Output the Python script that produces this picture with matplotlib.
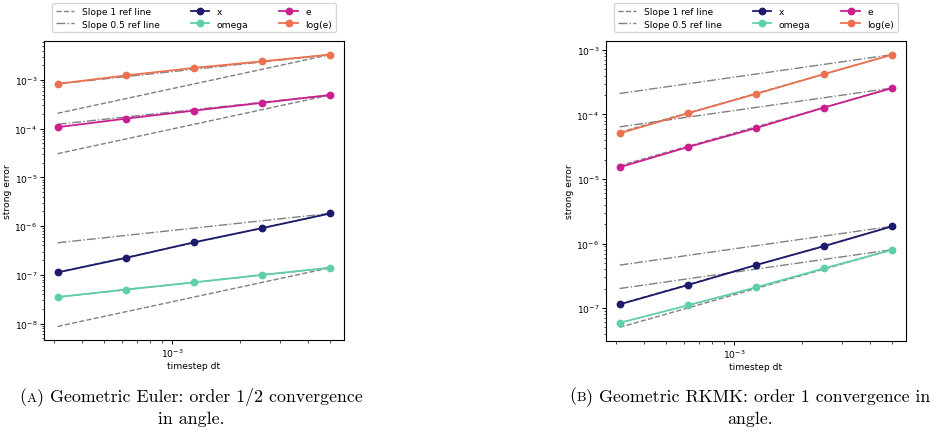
import numpy as np
import matplotlib

matplotlib.use("Agg")
import matplotlib.pyplot as plt
from matplotlib.offsetbox import TextArea, HPacker, AnnotationBbox

# timesteps
dt = [3.125e-4, 6.25e-4, 1.25e-3, 2.5e-3, 5e-3]

# geometric Euler errors
euler_x = [1.12e-7, 2.22e-7, 4.65e-7, 9.1e-7, 1.82e-6]
euler_omega = [3.5e-8, 5.0e-8, 7.0e-8, 1.0e-7, 1.4e-7]
euler_e = [1.07e-4, 1.6e-4, 2.34e-4, 3.38e-4, 4.9e-4]
euler_loge = [8.3e-4, 1.23e-3, 1.76e-3, 2.4e-3, 3.3e-3]

# geometric RKMK errors
rkmk_x = [1.14e-7, 2.27e-7, 4.64e-7, 9.1e-7, 1.85e-6]
rkmk_omega = [5.9e-8, 1.1e-7, 2.09e-7, 4.12e-7, 8.03e-7]
rkmk_e = [1.52e-5, 3.12e-5, 6.16e-5, 1.28e-4, 2.57e-4]
rkmk_loge = [5.1e-5, 1.04e-4, 2.08e-4, 4.23e-4, 8.45e-4]

names = ["x", "omega", "e", "log(e)"]
colors = ["#1b1a6b", "#5fcfa6", "#cc1f8f", "#ec7151"]

captions = [
    ("A", ") Geometric Euler: order 1/2 convergence", "in angle."),
    ("B", ") Geometric RKMK: order 1 convergence in", "angle."),
]

W, H = 941, 435
fig = plt.figure(figsize=(W / 100, H / 100), dpi=100)
FS = 6.6


def px_axes(x0, y0, x1, y1):
    return fig.add_axes([x0 / W, 1 - y1 / H, (x1 - x0) / W, (y1 - y0) / H])


def panel(ax, series):
    t = np.array(dt)
    for err in series:
        err = np.array(err)
        ax.loglog(t, err[-1] * (t / t[-1]) ** 1.0, "--", color="gray", lw=1.0, zorder=1)
        ax.loglog(t, err[-1] * (t / t[-1]) ** 0.5, "-.", color="gray", lw=1.0, zorder=1)
    for err, name, c in zip(series, names, colors):
        ax.loglog(dt, err, "-o", color=c, lw=1.3, ms=4.6, label=name, zorder=2)
    h, l = ax.get_legend_handles_labels()
    ref1 = plt.Line2D([], [], ls="--", color="gray", lw=1.0)
    ref2 = plt.Line2D([], [], ls="-.", color="gray", lw=1.0)
    ax.legend([ref1, ref2] + h, ["Slope 1 ref line", "Slope 0.5 ref line"] + l,
              ncol=3, loc="lower center", bbox_to_anchor=(0.5, 1.02), fontsize=FS,
              handlelength=2.0, columnspacing=3.4, borderaxespad=0.3,
              labelspacing=0.4, borderpad=0.4)
    ax.set_xlabel("timestep dt", fontsize=FS, labelpad=1.5)
    ax.set_ylabel("strong error", fontsize=FS, labelpad=1.5)
    ax.tick_params(labelsize=FS, length=3, width=0.7, pad=2)
    ax.tick_params(which="minor", length=1.8, width=0.5)
    for s in ax.spines.values():
        s.set_linewidth(0.8)


ax1 = px_axes(44, 42, 344, 341)
panel(ax1, [euler_x, euler_omega, euler_e, euler_loge])
ax2 = px_axes(606, 42, 906, 342)
panel(ax2, [rkmk_x, rkmk_omega, rkmk_e, rkmk_loge])

cx = [191, 750]
for (letter, rest, line2), x in zip(captions, cx):
    fs = 12.9
    kw = dict(family="cmr10")
    pack = HPacker(children=[
        TextArea("(", textprops=dict(size=fs, **kw)),
        TextArea(letter, textprops=dict(size=fs * 0.75, **kw)),
        TextArea(rest, textprops=dict(size=fs, **kw)),
    ], align="baseline", pad=0, sep=0)
    fig.add_artist(AnnotationBbox(pack, (x / W, 1 - 397 / H), xycoords="figure fraction",
                                  frameon=False, box_alignment=(0.5, 0.5)))
    fig.text(x / W, 1 - 419 / H, line2, ha="center", va="center", size=fs, **kw)

fig.savefig("out.png", dpi=100)
